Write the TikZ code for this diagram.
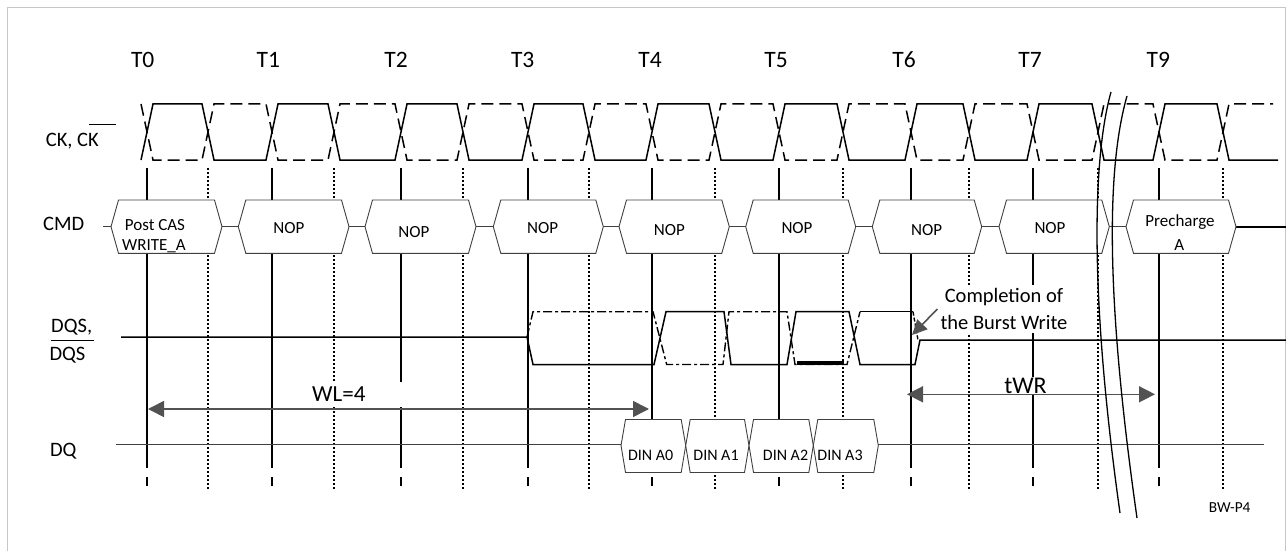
\documentclass[tikz,border=0pt]{standalone}
\usepackage{fontspec}
\setmainfont{Carlito}
\usetikzlibrary{arrows.meta}
\begin{document}
\begin{tikzpicture}[x=1pt,y=-1pt,
  sig/.style={line width=1.5pt, line join=miter},
  ckn/.style={sig, dash pattern=on 12pt off 6pt},
  dqsn/.style={line width=1.4pt, dash pattern=on 9pt off 3pt on 3pt off 3pt},
  gridT/.style={line width=1.3pt},
  gridTd/.style={line width=1.3pt, dash pattern=on 10pt off 6pt},
  gridH/.style={line width=1.8pt, dash pattern=on 1.6pt off 2.4pt},
  hexbox/.style={draw=black!75, line width=0.9pt, fill=white},
  thinline/.style={draw=black!75, line width=0.9pt},
  lbl/.style={font=\fontsize{20.5}{24}\selectfont, inner sep=0pt, anchor=base},
  tlbl/.style={font=\fontsize{23.5}{27}\selectfont, inner sep=0pt, anchor=base},
  boxtxt/.style={font=\fontsize{17}{21}\selectfont, inner sep=0pt, anchor=base},
  dintxt/.style={font=\fontsize{16}{19}\selectfont, inner sep=0pt, anchor=base},
  garrow/.style={draw=black!68, line width=1.6pt, {Triangle[length=16pt,width=16pt]}-{Triangle[length=16pt,width=16pt]}},
  garrowone/.style={draw=black!68, line width=1.6pt, -{Triangle[length=15pt,width=14pt]}},
]
\useasboundingbox (0,0) rectangle (1286,551);
% frame
\draw[black!22, line width=1pt] (7,551) -- (7,8) -- (1285,8) -- (1285,551);

% clock grid lines (solid / dashed at T edges)
\foreach \x/\k in {147/d,272/d,401/d,528/d,652/s,779/d,911/s,1033/s,1159/s}{
  \ifx\k d
    \draw[gridTd] (\x,168) -- (\x,200);
    \draw[gridT] (\x,253) -- (\x,487);
  \else
    \draw[gridT] (\x,168) -- (\x,200);
    \draw[gridT] (\x,253) -- (\x,468);
    \draw[gridT] (\x,477) -- (\x,486);
  \fi
}
% dotted half-period lines
\foreach \x in {208,334,463,589,715,843,969,1098,1223}{
  \draw[gridH] (\x,168) -- (\x,198);
  \draw[gridH] (\x,255) -- (\x,489);
}

% CK and CK#
\draw[sig] (141,160) foreach \r/\f in {147/208,272/334,401/463,528/589,652/715,779/843,911/969,1033/1098,1159/1223}
  { -- ({\r-6},160) -- ({\r+6},104) -- ({\f-6},104) -- ({\f+6},160) } -- (1278,160);
\draw[ckn] (141,104) foreach \r/\f in {147/208,272/334,401/463,528/589,652/715,779/843,911/969,1033/1098,1159/1223}
  { -- ({\r-6},104) -- ({\r+6},160) -- ({\f-6},160) -- ({\f+6},104) } -- (1273,104);

% CMD row
\draw[thinline] (103,226.7) -- (1236,226.7);
\draw[line width=1.8pt] (1236,226.7) -- (1286,226.7);
\foreach \L/\R in {111/222,238.3/349,365/476,493.3/603.3,619/729.3,745.7/855.7,872.3/981.7,999/1109.3,1126/1236}{
  \draw[hexbox] (\L,226.7) -- ({\L+7.5},200) -- ({\R-7.5},200) -- (\R,226.7) -- ({\R-7.5},253.3) -- ({\L+7.5},253.3) -- cycle;
}
\node[boxtxt] (pcas) at (155,230.7) {Post CAS};
\node[boxtxt] (wra) at (154,250.7) {WRITE\_A};
\foreach \n/\x/\y in {nop1/289/233.3,nop2/413.8/237.3,nop3/542.7/233.3,nop4/669.3/235.3,nop5/797/233.3,nop6/926.7/235,nop7/1050/233.3}{
  \node[boxtxt] (\n) at (\x,\y) {NOP};
}
\node[boxtxt] (pre) at (1180,226.7) {Precharge};
\node[boxtxt] (prea) at (1179.3,250) {A};

% DQS and DQS#
\draw[sig] (121,337) -- (527,337) -- (533,364.5) -- (654,364.5) -- (666,311.7) -- (724,311.7) -- (731,364.5)
  -- (787,364.5) -- (796,311.7) -- (849,311.7) -- (860,364.5) -- (915,364.5) -- (920,340) -- (1286,340);
\draw[dqsn] (527,337) -- (533,311.7) -- (653,311.7) -- (666.7,364.5) -- (723,364.5) -- (729,311.7)
  -- (787,311.7) -- (795,364.5) -- (847,364.5) -- (860,311.7);
\draw[sig] (860,311.7) -- (913,311.7);
\draw[dqsn, dash pattern=on 4pt off 2pt] (913,311.7) -- (918,340);
\draw[line width=3.5pt] (797,362.8) -- (844,362.8);

% DQ row
\draw[thinline] (115.7,444.5) -- (1264,444.5);
\foreach \L/\R in {621/685.7,685.7/749,749/813.3,813.3/878.3}{
  \draw[hexbox] (\L,445.5) -- ({\L+4.5},419.5) -- ({\R-4.5},419.5) -- (\R,445.5) -- ({\R-4.5},472.5) -- ({\L+4.5},472.5) -- cycle;
}
\node[dintxt] (din0) at (650.7,460.7) {DIN A0};
\node[dintxt] (din1) at (716,460.7) {DIN A1};
\node[dintxt] (din2) at (785.5,460.7) {DIN A2};
\node[dintxt] (din3) at (840,460.7) {DIN A3};

% time labels
\foreach \n/\x/\t in {tz/142.7/T0,ta/268.3/T1,tb/396/T2,tc/522.7/T3,td/650/T4,te/776/T5,tf/904/T6,tg/1030/T7,th/1158.3/T9}{
  \node[tlbl] (\n) at (\x,67.7) {\t};
}

% row labels
\node[lbl] (lck) at (72.3,146.7) {CK, CK};
\draw[line width=1pt] (89,124) -- (116,124);
\node[lbl] (lcmd) at (63.7,230.7) {CMD};
\node[lbl] (ldqsa) at (71.7,332.7) {DQS,};
\node[lbl] (ldqsb) at (67.5,360.5) {DQS};
\draw[line width=1pt] (51,340) -- (94,340);
\node[lbl] (ldq) at (63.3,456) {DQ};

% annotations
\node[anchor=base west, fill=white, inner xsep=2pt, inner ysep=5pt, font=\fontsize{23}{27}\selectfont] (wl) at (310,401.7) {WL=4\hspace*{38pt}};
\node[anchor=base, fill=white, inner sep=1pt, font=\fontsize{24}{28}\selectfont] (twr) at (1025.5,393.3) {tWR};
\node[align=center, fill=white, inner xsep=3pt, inner ysep=4pt, font=\fontsize{20.5}{26.6}\selectfont] (compl) at (1004,309) {Completion of\\the Burst Write};
\node[anchor=base, inner sep=0pt, font=\fontsize{15.3}{18}\selectfont] (bw) at (1229.7,512.3) {BW-P4};

\coordinate (wlA) at (148,409);
\coordinate (wlB) at (649,409);
\draw[garrow] (wlA) -- (wlB);
\coordinate (twA) at (907,394.3);
\coordinate (twB) at (1155,394.3);
\draw[garrow] (twA) -- (twB);
\coordinate (cmpTip) at (912,335);
\draw[garrowone] (compl.west) -- (cmpTip);

% break marks
\draw[line width=1.3pt] (1111,92) .. controls (1092,160) and (1090,300) .. (1120,513);
\draw[line width=1.3pt] (1127,96) .. controls (1106,170) and (1106,300) .. (1137,518);
\end{tikzpicture}
\end{document}
